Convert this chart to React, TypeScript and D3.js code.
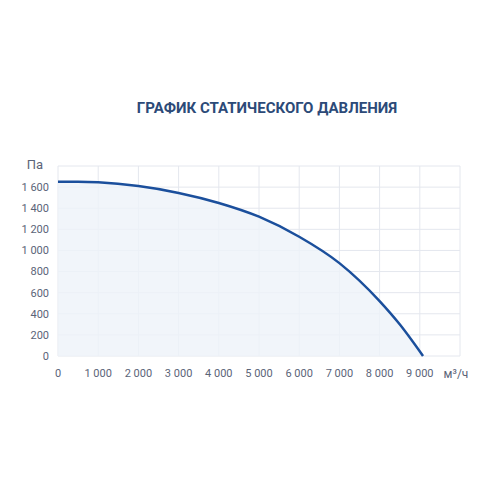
import React from 'react';
import * as d3 from 'd3';

const flow = [0, 500, 1000, 2000, 3000, 4000, 5000, 6000, 7000, 8000, 8500, 9080];
const pressure = [1650, 1650, 1645, 1610, 1545, 1450, 1320, 1130, 880, 520, 300, 0];
const xTicks = [0, 1000, 2000, 3000, 4000, 5000, 6000, 7000, 8000, 9000];
const xGrid = [0, 1000, 2000, 3000, 4000, 5000, 6000, 7000, 8000, 9000, 10000];
const yTicks = [0, 200, 400, 600, 800, 1000, 1200, 1400, 1600];
const yGrid = [0, 200, 400, 600, 800, 1000, 1200, 1400, 1600, 1800];

const fmt = (v: number) => d3.format(',')(v).replace(/,/g, ' ');

const App: React.FC = () => {
  const width = 500;
  const height = 500;
  const x = d3.scaleLinear().domain([0, 10000]).range([58, 460]);
  const y = d3.scaleLinear().domain([0, 1800]).range([356, 166]);

  const pts = flow.map((f, i) => [f, pressure[i]] as [number, number]);
  const line = d3.line<[number, number]>()
    .x(d => x(d[0]))
    .y(d => y(d[1]))
    .curve(d3.curveMonotoneX);
  const area = d3.area<[number, number]>()
    .x(d => x(d[0]))
    .y0(y(0))
    .y1(d => y(d[1]))
    .curve(d3.curveMonotoneX);

  const font = 'Roboto, "Noto Sans", sans-serif';

  return (
    <svg width={width} height={height} style={{ position: 'absolute', left: 0, top: 0, background: '#fff' }}
      fontFamily={font}>
      <text x={267} y={113} textAnchor="middle" fontSize={15} fontWeight={700} fill="#2c4a78">
        ГРАФИК СТАТИЧЕСКОГО ДАВЛЕНИЯ
      </text>

      {/* Grid */}
      {xGrid.map(v => (
        <line key={'gx' + v} x1={x(v)} x2={x(v)} y1={y(1800)} y2={y(0)} stroke="#e4e7ee" strokeWidth={1} />
      ))}
      {yGrid.map(v => (
        <line key={'gy' + v} x1={x(0)} x2={x(10000)} y1={y(v)} y2={y(v)} stroke="#e4e7ee" strokeWidth={1} />
      ))}

      <path d={area(pts) ?? ''} fill="#eef2f9" fillOpacity={0.8} />
      <path d={line(pts) ?? ''} fill="none" stroke="#1b4f9c" strokeWidth={2.5} />

      {/* Y ticks */}
      {yTicks.map(v => (
        <text key={'ty' + v} x={49} y={y(v)} dy="0.35em" textAnchor="end" fontSize={11} fill="#5b6478">
          {fmt(v)}
        </text>
      ))}
      <text x={43} y={y(1800)} dy="0.2em" textAnchor="end" fontSize={13} fill="#5b6478">Па</text>

      {/* X ticks */}
      {xTicks.map(v => (
        <text key={'tx' + v} x={x(v)} y={373} dy="0.35em" textAnchor="middle" fontSize={11} fill="#5b6478">
          {fmt(v)}
        </text>
      ))}
      <text x={456} y={374} dy="0.35em" textAnchor="middle" fontSize={12} fill="#5b6478">м³/ч</text>
    </svg>
  );
};

export default App;
